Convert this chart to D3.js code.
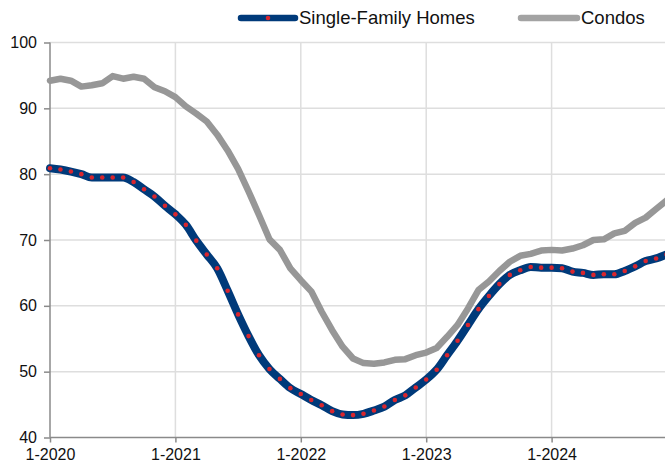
<!DOCTYPE html>
<html>
<head>
<meta charset="utf-8">
<script src="https://cdn.jsdelivr.net/npm/d3@7"></script>
<style>
  html, body { margin: 0; padding: 0; background: #fff; }
  svg { display: block; font-family: "Liberation Sans", Arial, sans-serif; }
</style>
</head>
<body>
<div id="chart"></div>
<script>
// monthly values, Jan 2020 .. Dec 2024
const singleFamily = [
  80.9, 80.7, 80.4, 80.0, 79.5, 79.5, 79.5, 79.5, 78.8, 77.7, 76.6, 75.2,
  73.9, 72.3, 69.9, 67.8, 65.7, 62.3, 58.7, 55.4, 52.5, 50.4, 48.9, 47.5,
  46.6, 45.7, 44.9, 44.0, 43.5, 43.4, 43.6, 44.1, 44.7, 45.7, 46.4, 47.6,
  48.8, 50.3, 52.5, 54.7, 57.1, 59.5, 61.5, 63.3, 64.7, 65.4, 65.9, 65.8,
  65.8, 65.7, 65.2, 65.0, 64.7, 64.8, 64.8, 65.3, 66.0, 66.8, 67.2, 67.8
];
const condos = [
  94.2, 94.5, 94.2, 93.3, 93.5, 93.8, 94.9, 94.5, 94.8, 94.5, 93.2, 92.6,
  91.7, 90.3, 89.2, 88.0, 86.0, 83.6, 80.8, 77.4, 73.8, 70.1, 68.5, 65.7,
  63.9, 62.2, 59.1, 56.3, 53.8, 52.0, 51.3, 51.2, 51.4, 51.8, 51.9, 52.5,
  52.9, 53.6, 55.3, 57.1, 59.6, 62.4, 63.7, 65.3, 66.7, 67.6, 67.9, 68.4,
  68.5, 68.4, 68.7, 69.2, 70.0, 70.1, 71.0, 71.4, 72.6, 73.4, 74.7, 76.0
];
const xTickIndex = [0, 12, 24, 36, 48];
const xTickLabels = ["1-2020", "1-2021", "1-2022", "1-2023", "1-2024"];
const yTicks = [40, 50, 60, 70, 80, 90, 100];
const seriesNames = ["Single-Family Homes", "Condos"];

const width = 665, height = 468;
const plotLeft = 50, plotTop = 42.5, plotBottom = 437.5;

const svg = d3.select("#chart").append("svg")
  .attr("width", width)
  .attr("height", height);

const x = d3.scaleLinear().domain([0, 60]).range([plotLeft, plotLeft + 5 * 125.4]);
const y = d3.scaleLinear().domain([40, 100]).range([plotBottom, plotTop]);

// grid
svg.append("g")
  .selectAll("line")
  .data(yTicks.slice(1))
  .join("line")
  .attr("x1", plotLeft).attr("x2", width)
  .attr("y1", d => y(d)).attr("y2", d => y(d))
  .attr("stroke", "#dedede").attr("stroke-width", 1.5);

svg.append("g")
  .selectAll("line")
  .data(xTickIndex.slice(1))
  .join("line")
  .attr("x1", d => x(d)).attr("x2", d => x(d))
  .attr("y1", plotTop).attr("y2", plotBottom)
  .attr("stroke", "#dedede").attr("stroke-width", 1.5);

// axes
const yAxis = svg.append("g")
  .attr("transform", `translate(${plotLeft},0)`)
  .call(d3.axisLeft(y).tickValues(yTicks).tickSize(6).tickPadding(7));
const xAxis = svg.append("g")
  .attr("transform", `translate(0,${plotBottom})`)
  .call(d3.axisBottom(x).tickValues(xTickIndex).tickSize(5).tickPadding(6)
    .tickFormat((d, i) => xTickLabels[i]));

[yAxis, xAxis].forEach(a => {
  a.select(".domain").attr("stroke", "#8a8a8a").attr("stroke-width", 1.5);
  a.selectAll(".tick line").attr("stroke", "#8a8a8a").attr("stroke-width", 1.5);
  a.selectAll("text").attr("fill", "#111").style("font-size", "16px")
    .style("font-family", "'Liberation Sans', Arial, sans-serif");
});
// x axis runs across the whole width
xAxis.select(".domain").attr("d", `M${plotLeft},0H${width}`);
yAxis.select(".domain").attr("d", `M0,${plotBottom}V${plotTop}`);

// lines
const grayLine = d3.line()
  .x((d, i) => x(i))
  .y(d => y(d));
const blueLine = d3.line()
  .x((d, i) => x(i))
  .y(d => y(d))
  .curve(d3.curveMonotoneX);

svg.append("path")
  .datum(condos)
  .attr("fill", "none")
  .attr("stroke", "#979797")
  .attr("stroke-width", 6.5)
  .attr("stroke-linejoin", "round")
  .attr("stroke-linecap", "round")
  .attr("d", grayLine);

svg.append("path")
  .datum(singleFamily)
  .attr("fill", "none")
  .attr("stroke", "#003a7a")
  .attr("stroke-width", 8)
  .attr("stroke-linejoin", "round")
  .attr("stroke-linecap", "round")
  .attr("d", blueLine);

svg.append("g")
  .selectAll("circle")
  .data(singleFamily)
  .join("circle")
  .attr("cx", (d, i) => x(i))
  .attr("cy", d => y(d))
  .attr("r", 2.3)
  .attr("fill", "#d8262e");

// legend
const legend = svg.append("g").style("font-size", "18.5px");
const legendItems = [
  { name: seriesNames[0], x0: 241, x1: 295, color: "#003a7a", dot: "#d8262e", w: 6.5 },
  { name: seriesNames[1], x0: 521, x1: 577, color: "#a3a3a3", dot: "#a3a3a3", w: 6.5 }
];
legendItems.forEach(it => {
  legend.append("line")
    .attr("x1", it.x0).attr("x2", it.x1)
    .attr("y1", 18).attr("y2", 18)
    .attr("stroke", it.color).attr("stroke-width", it.w)
    .attr("stroke-linecap", "round");
  legend.append("circle")
    .attr("cx", (it.x0 + it.x1) / 2).attr("cy", 18).attr("r", 2.3)
    .attr("fill", it.dot);
  legend.append("text")
    .attr("x", it.x1 + 4).attr("y", 18).attr("dy", "0.35em")
    .attr("fill", "#111")
    .text(it.name);
});
</script>
</body>
</html>
